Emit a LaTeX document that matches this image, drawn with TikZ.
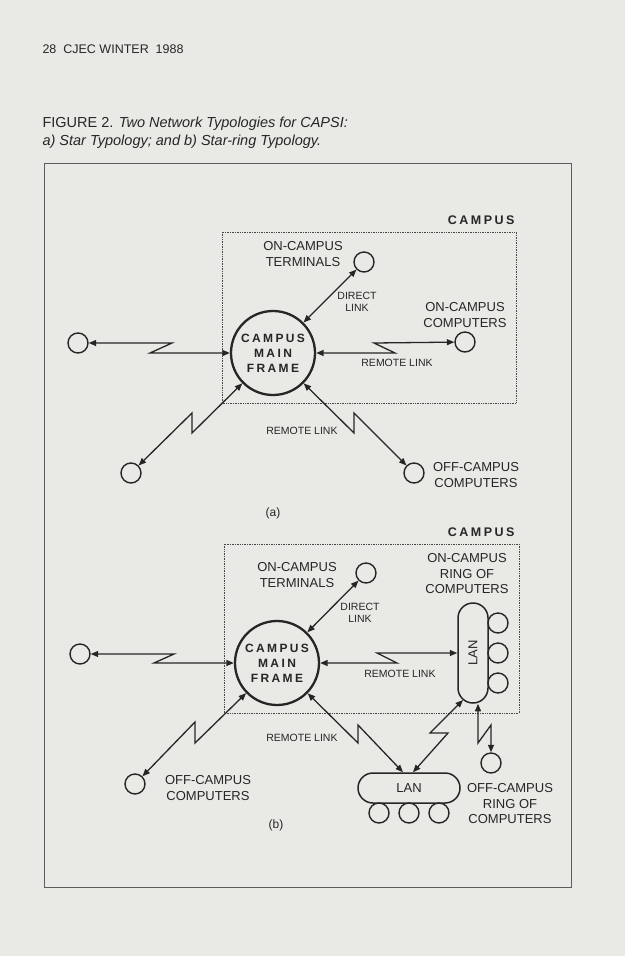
\documentclass[tikz,border=0pt]{standalone}
\usepackage{fontspec}
\setmainfont{Liberation Sans}
\newfontfamily\widebold[LetterSpace=20]{Liberation Sans}
\usepackage{tikz}
\usetikzlibrary{arrows.meta,calc}
\definecolor{paper}{RGB}{233,233,229}
\definecolor{ink}{RGB}{38,38,38}
\tikzset{
  term/.style={circle,draw=ink,line width=1.4pt,minimum size=20pt,inner sep=0pt},
  hub/.style={circle,draw=ink,line width=2.3pt,minimum size=84pt,inner sep=0pt,align=center,
    font=\widebold\bfseries\fontsize{12}{15}\selectfont},
  lan/.style={draw=ink,line width=1.5pt,rounded corners=15pt,inner sep=0pt,
    font=\fontsize{13}{15}\selectfont},
  lab/.style={align=center,font=\fontsize{13}{15.5}\selectfont},
  tiny/.style={align=center,font=\fontsize{10.5}{12.5}\selectfont},
  zone/.style={anchor=east,font=\widebold\bfseries\fontsize{12.5}{15}\selectfont},
  zonebox/.style={draw=ink!85,line width=0.7pt,dash pattern=on 0.7pt off 1pt},
  link/.style={<->,draw=ink,line width=1.3pt},
}

\begin{document}
\begin{tikzpicture}[x=1pt,y=-1pt,color=ink,>={Triangle[length=7.5pt,width=6pt]}]
\fill[paper] (0,0) rectangle (625,956);
\useasboundingbox (0,0) rectangle (625,956);

% page head and caption
\node[anchor=west,font=\fontsize{12.5}{14}\selectfont] (pagehead) at (39,49) {28\ \ CJEC WINTER\ \ 1988};
\node[anchor=west,font=\fontsize{14.5}{16}\selectfont] (capA) at (39,124) {FIGURE 2. \textit{Two Network Typologies for CAPSI:}};
\node[anchor=west,font=\fontsize{14.5}{16}\selectfont] (capB) at (39,142) {\textit{a) Star Typology; and b) Star-ring Typology.}};
\draw[ink!75,line width=0.9pt] (44,163) rectangle (571,887);

% (a) star typology
\node[zone] (campusA) at (518,220) {CAMPUS};
\draw[zonebox] (222,232) rectangle (516,403);
\node[hub] (mainA) at (273,353) {CAMPUS\\MAIN\\FRAME};
\node[term] (termA) at (364,262) {};
\node[lab] (termAlab) at (303,254) {ON-CAMPUS\\TERMINALS};
\node[tiny] (directA) at (357,302) {DIRECT\\LINK};
\node[term] (compA) at (465,342) {};
\node[lab] (compAlab) at (465,315) {ON-CAMPUS\\COMPUTERS};
\node[term] (leftA) at (78,343) {};
\node[term] (lowA) at (131,473) {};
\node[term] (offA) at (414,473) {};
\node[lab] (offAlab) at (476,475) {OFF-CAMPUS\\COMPUTERS};
\node[tiny] (remA1) at (397,363) {REMOTE LINK};
\node[tiny] (remA2) at (302,431) {REMOTE LINK};
\node[font=\fontsize{12}{14}\selectfont] (capa) at (273,513) {(a)};

\draw[link] (mainA) -- (termA);
\draw[link] (leftA) -- (172,343) -- (150,353) -- (mainA);
\draw[link] (mainA) -- (395,353) -- (374,343) -- (compA);
\draw[link] (mainA) -- (192,433) -- (192,413) -- (lowA);
\draw[link] (mainA) -- (354,433) -- (354,413) -- (offA);

% (b) star-ring typology
\node[zone] (campusB) at (518,532) {CAMPUS};
\draw[zonebox] (224,544) rectangle (519,713);
\node[hub] (mainB) at (277,663) {CAMPUS\\MAIN\\FRAME};
\node[term] (termB) at (366,573) {};
\node[lab] (termBlab) at (297,575) {ON-CAMPUS\\TERMINALS};
\node[tiny] (directB) at (360,613) {DIRECT\\LINK};
\node[lab] (ringOnlab) at (467,574) {ON-CAMPUS\\RING OF\\COMPUTERS};
\node[lan,minimum width=30pt,minimum height=100pt] (lanV) at (473,653) {\rotatebox{90}{LAN}};
\foreach \y [count=\i] in {623,653,683}
  \node[term] (ringOn\i) at (498,\y) {};
\node[term] (leftB) at (80,654) {};
\node[term] (offB) at (135,784) {};
\node[lab] (offBlab) at (208,788) {OFF-CAMPUS\\COMPUTERS};
\node[tiny] (remB1) at (400,674) {REMOTE LINK};
\node[tiny] (remB2) at (302,738) {REMOTE LINK};
\node[lan,minimum width=102pt,minimum height=30pt] (lanH) at (409,788) {LAN};
\foreach \x [count=\i] in {379,409,439}
  \node[term] (ringOff\i) at (\x,813) {};
\node[term] (offRB) at (491,763) {};
\node[lab] (offRBlab) at (510,804) {OFF-CAMPUS\\RING OF\\COMPUTERS};
\node[font=\fontsize{12}{14}\selectfont] (capb) at (276,825) {(b)};

\coordinate (lanVbotL) at (463,700);
\coordinate (lanVbotR) at ($(lanV.south)+(5,0)$);
\coordinate (lanHtopL) at ($(lanH.north)+(-6,0)$);
\coordinate (lanHtopR) at ($(lanH.north)+(4,0)$);

\draw[link] (mainB) -- (termB);
\draw[link] (leftB) -- (174,654) -- (154,663) -- (mainB);
\draw[link] (mainB) -- (397,663) -- (377,653) -- (lanV);
\draw[link] (mainB) -- (195,743) -- (195,722) -- (offB);
\draw[link] (mainB) -- (358,743) -- (358,725) -- (lanHtopL);
\draw[link] (lanVbotL) -- (430,733) -- (448,733) -- (lanHtopR);
\draw[link] (lanVbotR) -- (478,743) -- (491,725) -- (offRB);
\end{tikzpicture}
\end{document}
